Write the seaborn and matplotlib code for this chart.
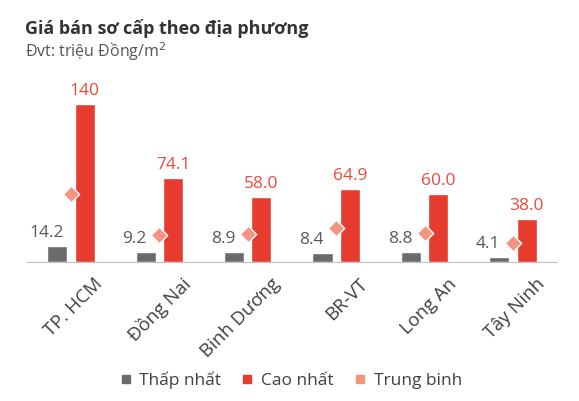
import numpy as np
import pandas as pd
import seaborn as sns
import matplotlib.pyplot as plt
from matplotlib.lines import Line2D
from matplotlib.transforms import ScaledTranslation

# Dữ liệu
regions = ['TP. HCM', 'Đồng Nai', 'Binh Dương', 'BR-VT', 'Long An', 'Tây Ninh']
min_price = [14.2, 9.2, 8.9, 8.4, 8.8, 4.1]
max_price = [140, 74.1, 58.0, 64.9, 60.0, 38.0]
avg_price = [60, 24, 24.5, 30.5, 25.5, 16.5]
series = ['Thấp nhất', 'Cao nhất', 'Trung binh']

gray = '#6b6b6b'
red = '#e63b2e'
salmon = '#f4937f'

sns.set_style('white')
plt.rcParams['font.family'] = ['Open Sans', 'DejaVu Sans']

df = pd.DataFrame({
    'region': regions * 2,
    'type': [series[0]] * 6 + [series[1]] * 6,
    'value': min_price + max_price,
})

fig = plt.figure(figsize=(5.79, 4.01), dpi=100)
ax = fig.add_axes([0.0461, 0.3466, 0.9164, 0.4788])

sns.barplot(data=df, x='region', y='value', hue='type', palette=[gray, red],
            width=0.62, gap=0.27, saturation=1, legend=False, ax=ax)
ax.scatter(np.arange(len(regions)), avg_price, marker='D', s=70, color=salmon,
           edgecolor='white', linewidth=1, zorder=4)

# nhãn giá trị
for bar, v in zip(ax.containers[0], min_price):
    ax.annotate(f'{v:.1f}', (bar.get_x() + bar.get_width() / 2, v),
                xytext=(-11, 9), textcoords='offset pixels',
                ha='center', va='baseline', fontsize=12.5, color='#595959')
for bar, v in zip(ax.containers[1], max_price):
    txt = f'{v:.0f}' if v >= 100 else f'{v:.1f}'
    ax.annotate(txt, (bar.get_x() + bar.get_width() / 2, v),
                xytext=(0, 9), textcoords='offset pixels',
                ha='center', va='baseline', fontsize=12.5, color='#eb4a3c')

ax.set_xlim(-0.5, len(regions) - 0.5)
ax.set_ylim(0, 170)
ax.set_yticks([])
ax.set_xlabel('')
ax.set_ylabel('')
for s in ['top', 'right', 'left']:
    ax.spines[s].set_visible(False)
ax.spines['bottom'].set_color('#bfbfbf')

ax.set_xticks(np.arange(len(regions)))
ax.set_xticklabels(regions, rotation=45, ha='right', va='center',
                   rotation_mode='anchor', fontsize=13.5, color='#404040')
ax.tick_params(axis='x', which='major', length=0, pad=0)
ax.set_xticks(np.arange(-0.5, len(regions), 1), minor=True)
ax.tick_params(axis='x', which='minor', length=4, color='#bfbfbf', width=1)
shift = ScaledTranslation(0.29, -0.19, fig.dpi_scale_trans)
for lab in ax.get_xticklabels():
    lab.set_transform(lab.get_transform() + shift)

handles = [Line2D([], [], marker='s', linestyle='none', markersize=6, color=c)
           for c in [gray, red, salmon]]
ax.legend(handles, series, loc='center', bbox_to_anchor=(0.5, 1 - 380 / 401),
          bbox_transform=fig.transFigure, ncol=3, frameon=False, fontsize=12.5,
          handletextpad=0.3, columnspacing=1.0, labelcolor='#404040',
          handlelength=1.0)

fig.text(25 / 579, 1 - 29 / 401, 'Giá bán sơ cấp theo địa phương', fontsize=13,
         fontweight='bold', color='#333333', va='center')
fig.text(25 / 579, 1 - 52 / 401, 'Đvt: triệu Đồng/m$^2$', fontsize=11.5,
         color='#555555', va='center')

fig.savefig('out.png', dpi=100)
